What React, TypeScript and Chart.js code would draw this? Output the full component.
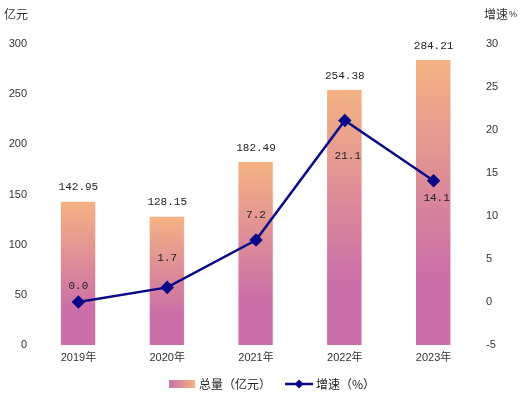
import React, { useEffect, useRef } from "react";
import { Chart, registerables } from "chart.js";

Chart.register(...registerables);

const categories = ["2019年", "2020年", "2021年", "2022年", "2023年"];
const totals = [142.95, 128.15, 182.49, 254.38, 284.21];
const growth = [0.0, 1.7, 7.2, 21.1, 14.1];
const leftTicks = [0, 50, 100, 150, 200, 250, 300];
const rightTicks = [-5, 0, 5, 10, 15, 20, 25, 30];

const BAR_TOP = "#f4b383";
const BAR_BOTTOM = "#cb6fa8";
const LINE_COLOR = "#0a0a88";
const TEXT = "#333333";
const MONO = "'Liberation Mono', 'DejaVu Sans Mono', monospace";
const SANS = "'Liberation Sans', Arial, 'Noto Sans CJK SC', sans-serif";
const CJK = "'Noto Sans CJK SC', sans-serif";

// label vertical offsets relative to the line points
const growthLabelDy = [-16, -29, -25, 36, 17];

const labelPlugin = {
  id: "customLabels",
  afterDatasetsDraw(chart: any) {
    const ctx = chart.ctx;
    ctx.save();
    ctx.fillStyle = "#222";
    ctx.font = `11px ${MONO}`;
    ctx.textAlign = "center";
    ctx.textBaseline = "middle";
    const barMeta = chart.getDatasetMeta(0);
    barMeta.data.forEach((el: any, i: number) => {
      ctx.fillText(totals[i].toFixed(2), el.x, el.y - 14);
    });
    const lineMeta = chart.getDatasetMeta(1);
    lineMeta.data.forEach((el: any, i: number) => {
      const dx = growthLabelDy[i] > 0 ? 3 : 0;
      ctx.fillText(growth[i].toFixed(1), el.x + dx, el.y + growthLabelDy[i]);
    });

    // axis titles
    ctx.fillStyle = TEXT;
    ctx.font = `12px ${CJK}`;
    ctx.textAlign = "left";
    ctx.fillText("亿元", 4, 14);
    ctx.fillText("增速", 484, 14);
    ctx.font = `9px ${SANS}`;
    ctx.fillText("%", 509, 15);

    // legend
    const ly = 384;
    const g = ctx.createLinearGradient(169, 0, 195, 0);
    g.addColorStop(0, BAR_BOTTOM);
    g.addColorStop(1, BAR_TOP);
    ctx.fillStyle = g;
    ctx.fillRect(169, ly - 4, 26, 8);
    ctx.fillStyle = "#222";
    ctx.font = `12px ${CJK}`;
    ctx.fillText("总量（亿元）", 199, ly);
    ctx.strokeStyle = LINE_COLOR;
    ctx.lineWidth = 2.5;
    ctx.beginPath();
    ctx.moveTo(285, ly);
    ctx.lineTo(313, ly);
    ctx.stroke();
    ctx.fillStyle = LINE_COLOR;
    ctx.beginPath();
    ctx.moveTo(299, ly - 4.5);
    ctx.lineTo(303.5, ly);
    ctx.lineTo(299, ly + 4.5);
    ctx.lineTo(294.5, ly);
    ctx.closePath();
    ctx.fill();
    ctx.fillStyle = "#222";
    ctx.fillText("增速（%）", 316, ly);
    ctx.restore();
  },
};

export default function App() {
  const ref = useRef<HTMLCanvasElement>(null);
  useEffect(() => {
    document.body.style.margin = "0";
    const canvas = ref.current!;
    const chart = new Chart(canvas, {
      type: "bar",
      data: {
        labels: categories,
        datasets: [
          {
            type: "bar",
            label: "总量（亿元）",
            data: totals,
            yAxisID: "y",
            order: 1,
            categoryPercentage: 1,
            barPercentage: 0.4,
            borderWidth: { right: 1, top: 0, left: 0, bottom: 0 } as any,
            borderColor: "rgba(255,235,235,0.9)",
            backgroundColor: (c: any) => {
              const chartObj = c.chart;
              const area = chartObj.chartArea;
              if (!area || c.dataIndex === undefined) return BAR_BOTTOM;
              const ys = chartObj.scales.y;
              const top = ys.getPixelForValue(totals[c.dataIndex]);
              const bottom = ys.getPixelForValue(0);
              const gr = chartObj.ctx.createLinearGradient(0, top, 0, bottom);
              gr.addColorStop(0, BAR_TOP);
              gr.addColorStop(0.75, BAR_BOTTOM);
              gr.addColorStop(1, BAR_BOTTOM);
              return gr;
            },
          } as any,
          {
            type: "line",
            label: "增速（%）",
            data: growth,
            yAxisID: "y1",
            order: 0,
            borderColor: LINE_COLOR,
            backgroundColor: LINE_COLOR,
            borderWidth: 2.5,
            pointStyle: "rectRot",
            pointRadius: 5,
            pointBackgroundColor: LINE_COLOR,
            pointBorderColor: LINE_COLOR,
            tension: 0,
          } as any,
        ],
      },
      options: {
        responsive: false,
        animation: false,
        layout: { padding: { top: 44, left: 0, right: 0, bottom: 0 } },
        plugins: {
          legend: { display: false },
          tooltip: { enabled: false },
        },
        scales: {
          x: {
            grid: { display: false, drawTicks: false, tickLength: 0 },
            border: { display: false },
            ticks: { color: TEXT, font: { size: 11, family: SANS }, padding: 6 },
            afterFit: (s: any) => {
              s.height = 54;
            },
          },
          y: {
            position: "left",
            min: leftTicks[0],
            max: leftTicks[leftTicks.length - 1],
            grid: { display: false, drawTicks: false, tickLength: 0 },
            border: { display: false },
            afterBuildTicks: (s: any) => {
              s.ticks = leftTicks.map((v) => ({ value: v }));
            },
            ticks: { color: TEXT, font: { size: 11, family: SANS }, padding: 7 },
            afterFit: (s: any) => {
              s.width = 34;
            },
          },
          y1: {
            position: "right",
            min: rightTicks[0],
            max: rightTicks[rightTicks.length - 1],
            grid: { display: false, drawTicks: false, tickLength: 0 },
            border: { display: false },
            afterBuildTicks: (s: any) => {
              s.ticks = rightTicks.map((v) => ({ value: v }));
            },
            ticks: { color: TEXT, font: { size: 11, family: SANS }, padding: 8 },
            afterFit: (s: any) => {
              s.width = 42;
            },
          },
        },
      },
      plugins: [labelPlugin],
    });
    return () => chart.destroy();
  }, []);
  return (
    <div style={{ width: 520, height: 399, background: "#fff" }}>
      <canvas ref={ref} width={520} height={399} />
    </div>
  );
}
